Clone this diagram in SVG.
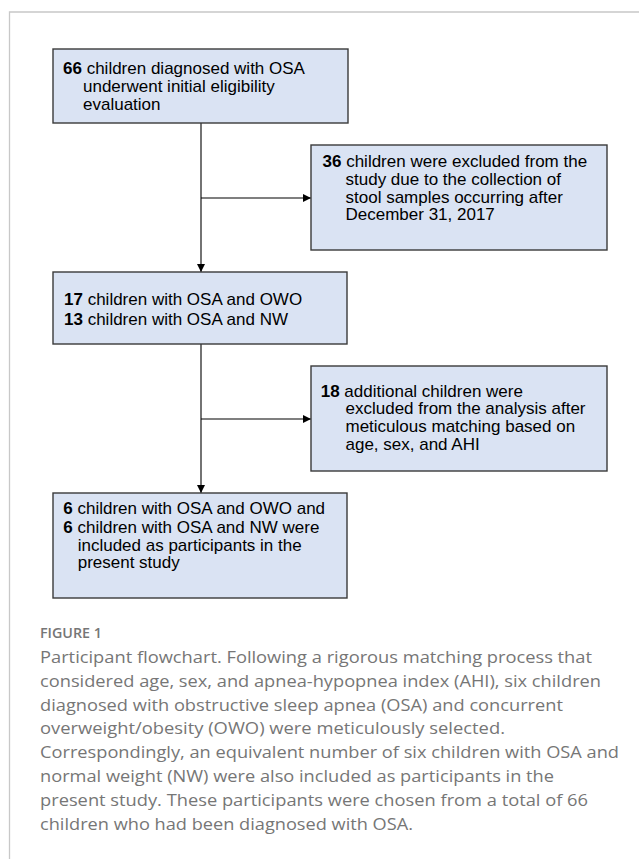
<svg xmlns="http://www.w3.org/2000/svg" width="639" height="859" viewBox="0 0 639 859">
<style>
.frame{fill:none;stroke:#c8c8c8;stroke-width:1.3}
.box{fill:#dae3f3;stroke:#3a3a3a;stroke-width:1.4}
.t{font-family:"Liberation Sans",Arial,sans-serif;font-size:17px;fill:#000}
.b{font-weight:bold}
.conn{fill:none;stroke:#000;stroke-width:1.1}
.cap{font-family:"Open Sans","Noto Sans",sans-serif;font-size:17px;fill:#767676}
.fig{font-family:"Open Sans","Noto Sans",sans-serif;font-size:14px;font-weight:600;fill:#767676}
</style>
<defs>
<marker id="arr" viewBox="0 0 10 10" refX="10" refY="5" markerWidth="8" markerHeight="8" markerUnits="userSpaceOnUse" orient="auto">
<path d="M0,0 L10,5 L0,10 z" fill="#000"/>
</marker>
</defs>
<rect width="639" height="859" fill="#fff"/>
<path class="frame" d="M9.5,859 V12 H639"/>

<g id="connectors">
<line class="conn" x1="201" y1="123" x2="201" y2="272" marker-end="url(#arr)"/>
<line class="conn" x1="201" y1="198" x2="311" y2="198" marker-end="url(#arr)"/>
<line class="conn" x1="201" y1="344" x2="201" y2="493" marker-end="url(#arr)"/>
<line class="conn" x1="201" y1="419" x2="311" y2="419" marker-end="url(#arr)"/>
</g>

<g id="n1">
<rect class="box" x="53" y="49" width="295" height="74"/>
<text class="t" x="63" y="73.5"><tspan class="b">66</tspan> children diagnosed with OSA</text>
<text class="t" x="83" y="91.5">underwent initial eligibility</text>
<text class="t" x="83" y="109.5">evaluation</text>
</g>

<g id="n2">
<rect class="box" x="311" y="145" width="296" height="105"/>
<text class="t" x="322.5" y="167.3"><tspan class="b">36</tspan> children were excluded from the</text>
<text class="t" x="345.5" y="185">study due to the collection of</text>
<text class="t" x="345.5" y="202.7">stool samples occurring after</text>
<text class="t" x="345.5" y="220.4">December 31, 2017</text>
</g>

<g id="n3">
<rect class="box" x="53" y="272" width="294" height="72"/>
<text class="t" x="64" y="304.5"><tspan class="b">17</tspan> children with OSA and OWO</text>
<text class="t" x="64" y="324.5"><tspan class="b">13</tspan> children with OSA and NW</text>
</g>

<g id="n4">
<rect class="box" x="311" y="366" width="296" height="105"/>
<text class="t" x="320.7" y="396.7"><tspan class="b">18</tspan> additional children were</text>
<text class="t" x="345.5" y="414.3">excluded from the analysis after</text>
<text class="t" x="345.5" y="432">meticulous matching based on</text>
<text class="t" x="345.5" y="449.6">age, sex, and AHI</text>
</g>

<g id="n5">
<rect class="box" x="53" y="493" width="294" height="105"/>
<text class="t" x="63.3" y="514.3"><tspan class="b">6</tspan> children with OSA and OWO and</text>
<text class="t" x="63.3" y="532.5"><tspan class="b">6</tspan> children with OSA and NW were</text>
<text class="t" x="77.7" y="550.5">included as participants in the</text>
<text class="t" x="77.7" y="568.3">present study</text>
</g>

<g id="caption">
<text class="fig" x="40" y="637.7" textLength="62" lengthAdjust="spacingAndGlyphs">FIGURE 1</text>
<text class="cap" x="40" y="662.7" textLength="552" lengthAdjust="spacingAndGlyphs">Participant flowchart. Following a rigorous matching process that</text>
<text class="cap" x="40" y="686.6" textLength="561" lengthAdjust="spacingAndGlyphs">considered age, sex, and apnea-hypopnea index (AHI), six children</text>
<text class="cap" x="40" y="710.5" textLength="523" lengthAdjust="spacingAndGlyphs">diagnosed with obstructive sleep apnea (OSA) and concurrent</text>
<text class="cap" x="40" y="734.4" textLength="465" lengthAdjust="spacingAndGlyphs">overweight/obesity (OWO) were meticulously selected.</text>
<text class="cap" x="40" y="758.3" textLength="579" lengthAdjust="spacingAndGlyphs">Correspondingly, an equivalent number of six children with OSA and</text>
<text class="cap" x="40" y="782.2" textLength="514" lengthAdjust="spacingAndGlyphs">normal weight (NW) were also included as participants in the</text>
<text class="cap" x="40" y="806.1" textLength="548" lengthAdjust="spacingAndGlyphs">present study. These participants were chosen from a total of 66</text>
<text class="cap" x="40" y="830" textLength="373" lengthAdjust="spacingAndGlyphs">children who had been diagnosed with OSA.</text>
</g>
</svg>
